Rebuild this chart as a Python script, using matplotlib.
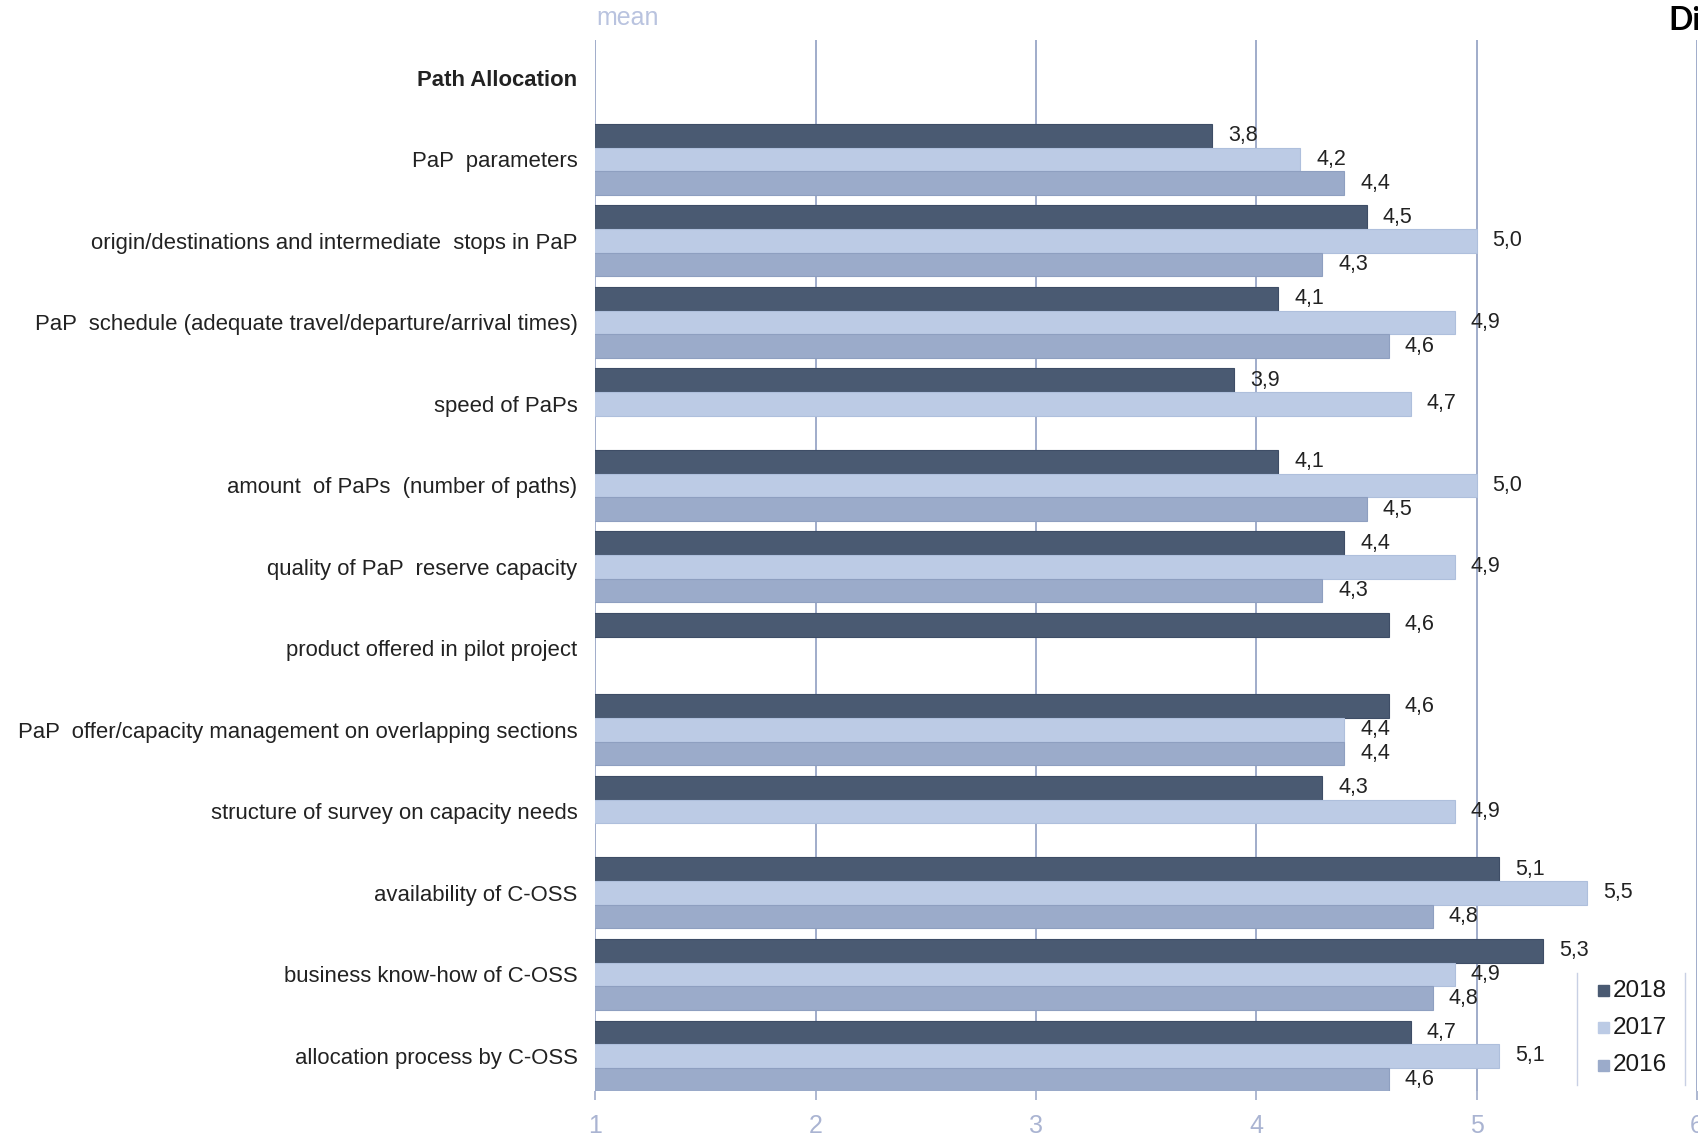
import numpy as np
import matplotlib
matplotlib.use("Agg")
import matplotlib.pyplot as plt
from matplotlib.patches import Rectangle
from matplotlib.lines import Line2D

plt.rcParams["font.family"] = ["Liberation Sans", "DejaVu Sans"]

# ---- data ----
categories = [
    "Path Allocation",
    "PaP  parameters",
    "origin/destinations and intermediate  stops in PaP",
    "PaP  schedule (adequate travel/departure/arrival times)",
    "speed of PaPs",
    "amount  of PaPs  (number of paths)",
    "quality of PaP  reserve capacity",
    "product offered in pilot project",
    "PaP  offer/capacity management on overlapping sections",
    "structure of survey on capacity needs",
    "availability of C-OSS",
    "business know-how of C-OSS",
    "allocation process by C-OSS",
]
nan = np.nan
mean_2018 = [nan, 3.8, 4.5, 4.1, 3.9, 4.1, 4.4, 4.6, 4.6, 4.3, 5.1, 5.3, 4.7]
mean_2017 = [nan, 4.2, 5.0, 4.9, 4.7, 5.0, 4.9, nan, 4.4, 4.9, 5.5, 4.9, 5.1]
mean_2016 = [nan, 4.4, 4.3, 4.6, nan, 4.5, 4.3, nan, 4.4, nan, 4.8, 4.8, 4.6]
years = ["2018", "2017", "2016"]
x_ticks = [1, 2, 3, 4, 5, 6]

# ---- styling ----
colors = {"2018": "#4a5a72", "2017": "#bccbe5", "2016": "#9babca"}
edges = {"2018": "#3e4d66", "2017": "#aebfdc", "2016": "#8e9fc0"}
grid_color = "#a0acca"
axis_text = "#aab4d2"
label_color = "#222222"

fig = plt.figure(figsize=(16.99, 11.38), dpi=100)
ax = fig.add_axes([0.3505, 0.0413, 0.6483, 0.9236])

series = {"2018": mean_2018, "2017": mean_2017, "2016": mean_2016}
bar_h = 0.29
offsets = {"2018": -bar_h, "2017": 0.0, "2016": bar_h}
ypos = np.arange(len(categories))

for yr in years:
    vals = np.array(series[yr], dtype=float)
    y = ypos + offsets[yr]
    ok = ~np.isnan(vals)
    ax.barh(y[ok], vals[ok], height=bar_h, color=colors[yr],
            edgecolor=edges[yr], linewidth=0.8, zorder=2)
    for yy, v in zip(y[ok], vals[ok]):
        ax.annotate(f"{v:.1f}".replace(".", ","), xy=(v, yy),
                    xytext=(16, 0), textcoords="offset pixels",
                    ha="left", va="center", fontsize=15.5,
                    color=label_color, zorder=3)

ax.set_xlim(1, 6)
ax.set_ylim(12.43, -0.466)
ax.set_xticks(x_ticks)
ax.set_xticklabels([str(t) for t in x_ticks], fontsize=18, color=axis_text)
ax.tick_params(axis="x", length=6.5, width=1.2, color=grid_color, pad=10)
ax.set_yticks(ypos)
ax.set_yticklabels(categories, fontsize=15.9, color=label_color)
ax.tick_params(axis="y", length=0, pad=13)
ax.get_yticklabels()[0].set_fontweight("bold")

for s in ax.spines.values():
    s.set_visible(False)
ax.set_axisbelow(True)
ax.xaxis.grid(True, color=grid_color, linewidth=1.4)
ax.yaxis.grid(False)

# header texts
fig.text(0.3508, 0.984, "mean", fontsize=18, color="#b9c3df", ha="left", va="center")
fig.text(0.9817, 0.982, "Di", fontsize=23, fontweight="bold", color="black",
         family=["Lato", "DejaVu Sans"], ha="left", va="center")

# legend
for xl in (0.9282, 0.9918):
    fig.add_artist(Line2D([xl, xl], [0.0466, 0.145], transform=fig.transFigure,
                          color="#c8d0e4", linewidth=1.0))
leg_rows = [0.1292, 0.0967, 0.0641]
sq_w = 11 / 1699
sq_h = 11 / 1138
for yr, yl in zip(years, leg_rows):
    fig.add_artist(Rectangle((0.9435 - sq_w / 2, yl - sq_h / 2), sq_w, sq_h,
                             transform=fig.transFigure, color=colors[yr]))
    fig.text(0.9495, yl, yr, fontsize=17.5, color="#1a1a1a", ha="left", va="center")

fig.savefig("out.png", dpi=100)
